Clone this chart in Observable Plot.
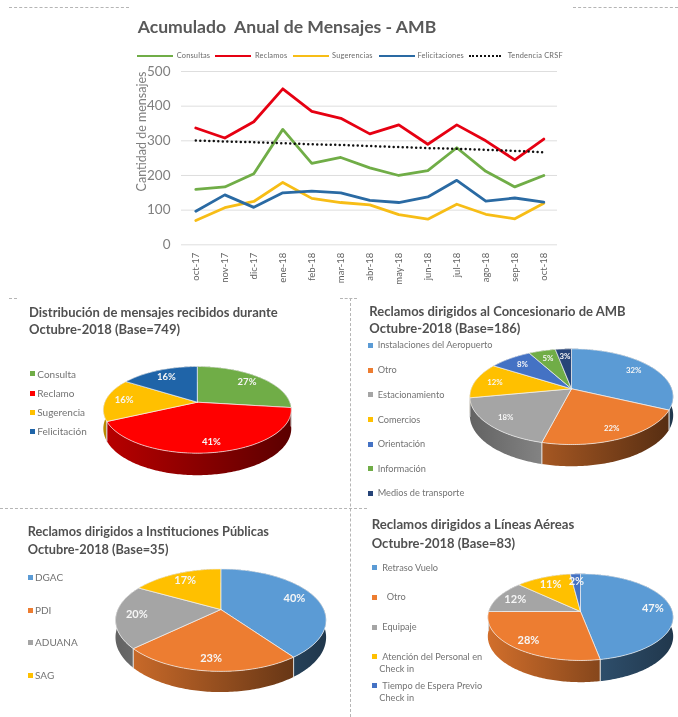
<!DOCTYPE html>
<html lang="es"><head><meta charset="utf-8">
<script src="https://cdn.jsdelivr.net/npm/d3@7"></script>
<script src="https://cdn.jsdelivr.net/npm/@observablehq/plot@0.6"></script>
<style>
html,body{margin:0;padding:0;background:#fff}
#page{position:relative;width:678px;height:717px;overflow:hidden;font-family:Lato,"Open Sans",sans-serif;filter:blur(.45px)}
#page svg{position:absolute;left:0;background:transparent;overflow:visible}
.t{position:absolute;white-space:nowrap;line-height:1;transform:translateY(-50%)}
.b{position:absolute}
</style></head><body><div id="page"></div>
<script>
// ---------- data ----------
const months = ["oct-17","nov-17","dic-17","ene-18","feb-18","mar-18","abr-18","may-18","jun-18","jul-18","ago-18","sep-18","oct-18"];
const consultas      = [160,167,205,333,235,252,222,200,214,280,212,167,200];
const reclamos       = [337,308,355,450,385,365,320,346,290,346,300,245,305];
const sugerencias    = [70,107,125,180,134,122,115,87,74,117,88,75,120];
const felicitaciones = [97,144,108,150,155,150,128,122,138,186,126,135,123];
const tendencia      = [301,298,296,293,290,288,285,282,279,277,274,271,267];
const yTicks = [0,100,200,300,400,500];

const distNames = ["Consulta","Reclamo","Sugerencia","Felicitación"];
const distValues = [27,41,16,16];
const concNames = ["Instalaciones del Aeropuerto","Otro","Estacionamiento","Comercios","Orientación","Información","Medios de transporte"];
const concValues = [32,22,18,12,8,5,3];
const instNames = ["DGAC","PDI","ADUANA","SAG"];
const instValues = [40,23,20,17];
const lineNames = ["Retraso Vuelo","Otro","Equipaje","Atención del Personal en Check in","Tiempo de Espera Previo Check in"];
const lineValues = [47,28,12,11,2];

// ---------- styles ----------
const cGreen="#70ad47",cRed="#e60012",cYellow="#f7bd16",cBlue="#2a6aa3";
const distColors=["#70ad47","#ff0000","#ffc000","#1f64a8"];
const concColors=["#5b9bd5","#ed7d31","#a5a5a5","#ffc000","#4472c4","#70ad47","#264478"];
const instColors=["#5b9bd5","#ed7d31","#a5a5a5","#ffc000"];
const lineColors=["#5b9bd5","#ed7d31","#a5a5a5","#ffc000","#4472c4"];

const page=document.getElementById("page");
function text(s,x,y,style){const d=document.createElement("div");d.className="t";d.textContent=s;d.style.cssText=`left:${x}px;top:${y}px;${style||""}`;page.appendChild(d);return d;}
function box(x,y,w,h,style){const d=document.createElement("div");d.className="b";d.style.cssText=`left:${x}px;top:${y}px;width:${w}px;height:${h}px;${style||""}`;page.appendChild(d);return d;}

// dividers
const dash="border-top:1px dashed #b5b5b5;";
box(9,6.5,120,0,dash);box(573,6.5,105,0,dash);
box(9,298,8,0,dash);box(340,298,17,0,dash);
box(0,507.5,367,0,dash);
box(349.5,298,0,419,"border-left:1px dashed #b5b5b5;");

// ---------- line chart ----------
const rows=(arr,s)=>arr.map((v,i)=>({m:months[i],v,s}));
const lineChart=Plot.plot({
  width:678,height:290,marginLeft:181,marginRight:121,marginTop:71,marginBottom:45.7,
  style:{background:"transparent"},
  x:{type:"point",domain:months,range:[195.3,543.3],padding:0,round:false,label:null},
  y:{domain:[0,500],label:null},
  marks:[
    Plot.ruleY(yTicks,{stroke:"#dedede",strokeWidth:1}),
    Plot.axisY({ticks:yTicks,tickSize:0,tickPadding:11,fontSize:13.5,fill:"#7f7f7f",fontFamily:"Lato",label:null}),
    Plot.axisX({tickRotate:-90,tickSize:0,tickPadding:8,fontSize:9.5,fill:"#606060",fontFamily:"Lato",label:null,style:{letterSpacing:".25px"}}),
    Plot.text(["Cantidad de mensajes"],{frameAnchor:"top-left",rotate:-90,textAnchor:"middle",lineAnchor:"middle",dx:-40,dy:60,fontSize:12.5,fill:"#7f7f7f",fontFamily:"Lato"}),
    Plot.line(rows(consultas,"c"),{x:"m",y:"v",stroke:cGreen,strokeWidth:2.8}),
    Plot.line(rows(reclamos,"r"),{x:"m",y:"v",stroke:cRed,strokeWidth:2.8}),
    Plot.line(rows(sugerencias,"s"),{x:"m",y:"v",stroke:cYellow,strokeWidth:2.8}),
    Plot.line(rows(felicitaciones,"f"),{x:"m",y:"v",stroke:cBlue,strokeWidth:2.8}),
    Plot.line(rows(tendencia,"t"),{x:"m",y:"v",stroke:"#111",strokeWidth:2.5,strokeDasharray:"0 4.5",strokeLinecap:"round"})
  ]
});
lineChart.style.top="0px";page.appendChild(lineChart);

text("Acumulado  Anual de Mensajes - AMB",137.7,27,"font-size:17.6px;font-weight:700;color:#595959;white-space:pre");
const lg="font-size:7.4px;color:#6a6a6a;letter-spacing:.2px";
[["Consultas",137.3,176.7,cGreen],["Reclamos",215,255,cRed],["Sugerencias",293,332,cYellow],["Felicitaciones",379,417.5,cBlue]].forEach(([s,x0,x1,c])=>{
  box(x0,54.6,36,2.8,`background:${c}`);text(s,x1,56,lg);
});
box(469,54.6,32,0,"border-top:2.6px dotted #111");text("Tendencia CRSF",507.7,56,lg);

// ---------- 3-D pies ----------
function factors(hex){
  if(hex==="#a5a5a5")return [.6,1.15];
  if(hex==="#ed7d31")return [.88,.36];
  return [.72,.36];
}
let pieId=0;
function pie3d(values,colors,g){
  const pid=++pieId;
  const P=a=>{const X=Math.sin(a),Y=-Math.cos(a),s=1/(1-g.k*Y);return {X,Y,s,x:X*s,y:Y*s};};
  const total=d3.sum(values);let acc=0;
  const dep=g.depth/g.ry*(1-g.k);
  const slices=values.map((v,i)=>{const a0=acc/total*2*Math.PI;acc+=v;const a1=acc/total*2*Math.PI;return {v,c:colors[i],a0,a1,i};});
  const labels=[],edges=[];
  const topMarks=[],sideMarks=[];
  const order=[...slices].sort((p,q)=>P((p.a0+p.a1)/2).Y-P((q.a0+q.a1)/2).Y);
  slices.forEach(sl=>{
    const n=Math.max(2,Math.ceil((sl.a1-sl.a0)/(Math.PI/180)));
    const arc=d3.range(n+1).map(j=>P(sl.a0+(sl.a1-sl.a0)*j/n));
    const top=[{x:0,y:0},...arc,{x:0,y:0}];
    topMarks.push(Plot.line(top,{x:"x",y:"y",fill:sl.c,stroke:"#f2f2f2",strokeWidth:.7,strokeLinejoin:"round"}));
    const mid=P((sl.a0+sl.a1)/2);
    labels.push({x:mid.x*.8,y:mid.y*.8,t:sl.v+"%"});
    [arc[0],arc[n]].forEach((p,k)=>{
      if(p.Y>-.05){const id=sl.i+"-"+k;edges.push({id,x:p.x,y:p.y},{id,x:p.x,y:p.y+dep*p.s});}
    });
  });
  order.forEach(sl=>{
    const n=Math.max(2,Math.ceil((sl.a1-sl.a0)/(Math.PI/180)));
    const arc=d3.range(n+1).map(j=>P(sl.a0+(sl.a1-sl.a0)*j/n));
    const poly=[...arc,...arc.slice().reverse().map(p=>({x:p.x,y:p.y+dep*p.s}))];
    poly.push(poly[0]);
    sideMarks.push(Plot.line(poly,{x:"x",y:"y",fill:`url(#grad${pid}-${sl.i})`,stroke:"none"}));
  });
  const w=g.right-g.left,h=g.bottom-g.top;
  const x1=g.cx-g.rx-g.left,x2=g.cx+g.rx-g.left;
  const defs=()=>{
    const d=d3.create("svg:defs");
    slices.forEach(sl=>{
      const c=d3.rgb(sl.c),[fa,fb]=factors(sl.c);
      const gr=d.append("linearGradient").attr("id",`grad${pid}-${sl.i}`).attr("gradientUnits","userSpaceOnUse")
        .attr("x1",x1).attr("x2",x2).attr("y1",0).attr("y2",0);
      [[0,fa],[1,fb]].forEach(([o,f])=>gr.append("stop").attr("offset",o).attr("stop-color",d3.rgb(c.r*f,c.g*f,c.b*f).formatHex()));
    });
    return d.node();
  };
  const chart=Plot.plot({
    width:w,height:h,margin:0,axis:null,
    style:{background:"transparent"},
    x:{domain:[-1,1],range:[x1,x2]},
    y:{domain:[-1,1],range:[g.ay-g.ry-g.top,g.ay+g.ry-g.top]},
    marks:[
      defs,
      ...sideMarks,
      Plot.line(edges,{x:"x",y:"y",z:"id",stroke:"#dcdcdc",strokeWidth:.7}),
      ...topMarks,
      Plot.text(labels,{x:"x",y:"y",text:"t",fill:"#f6f6f6",fontSize:g.fs,fontWeight:700,fontFamily:"Lato"})
    ]
  });
  chart.style.left=g.left+"px";chart.style.top=g.top+"px";
  page.appendChild(chart);
}
pie3d(distValues,distColors,{left:95,right:300,top:355,bottom:485,cx:196.8,ay:401.7,rx:92.5,ry:42,k:.176,depth:22,fs:9.5});
pie3d(concValues,concColors,{left:460,right:678,top:340,bottom:475,cx:571,ay:388.3,rx:100.3,ry:46.6,k:.164,depth:21.7,fs:7.8});
pie3d(instValues,instColors,{left:105,right:335,top:560,bottom:700,cx:220.3,ay:609,rx:103,ry:49,k:.208,depth:20.7,fs:11});
pie3d(lineValues,lineColors,{left:480,right:678,top:565,bottom:690,cx:580,ay:611,rx:91.9,ry:42.6,k:.13,depth:21.7,fs:11});

// ---------- titles ----------
const tt="font-size:13px;font-weight:700;color:#505050";
const tt2="font-size:12.75px;font-weight:700;color:#505050";
text("Distribución de mensajes recibidos durante",29,311.7,tt);text("Octubre-2018 (Base=749)",29,328.5,tt);
text("Reclamos dirigidos al Concesionario de AMB",369.3,310.7,tt);text("Octubre-2018 (Base=186)",369.3,328.3,tt);
text("Reclamos dirigidos a Instituciones Públicas",27.7,531,tt2);text("Octubre-2018 (Base=35)",27.7,548.7,tt2);
text("Reclamos dirigidos a Líneas Aéreas",371.7,525,"font-size:13.2px;font-weight:700;color:#505050");text("Octubre-2018 (Base=83)",371.7,542.7,tt);

// ---------- pie legends ----------
function legend(names,colors,mx,tx,ys,fs){
  names.forEach((n,i)=>{
    box(mx-2.5,ys[i]-2.5,5,5,`background:${colors[i]}`);
    text(n,tx,ys[i],`font-size:${fs}px;color:#737373`);
  });
}
legend(distNames,distColors,32,37.3,[373.7,393,412.3,431.3],10);
legend(concNames,concColors,370,377.7,[345.3,370,394.7,419.7,444,468.7,493.3],9.2);
legend(instNames,instColors,30,35,[577.3,610,642.3,675],10);
const lfs="font-size:9.2px;color:#737373";
box(371.5,565.2,5,5,`background:${lineColors[0]}`);text("Retraso Vuelo",382.3,567.7,lfs);
box(371.5,594.8,5,5,`background:${lineColors[1]}`);text("Otro",386.7,597.3,lfs);
box(371.5,624.5,5,5,`background:${lineColors[2]}`);text("Equipaje",382.3,627,lfs);
box(371.5,654.2,5,5,`background:${lineColors[3]}`);text("Atención del Personal en",382.3,656.7,lfs);text("Check in",379.3,668.7,lfs);
box(371.5,683.2,5,5,`background:${lineColors[4]}`);text("Tiempo de Espera Previo",382.3,685.7,lfs);text("Check in",379.3,698.3,lfs);
</script></body></html>
